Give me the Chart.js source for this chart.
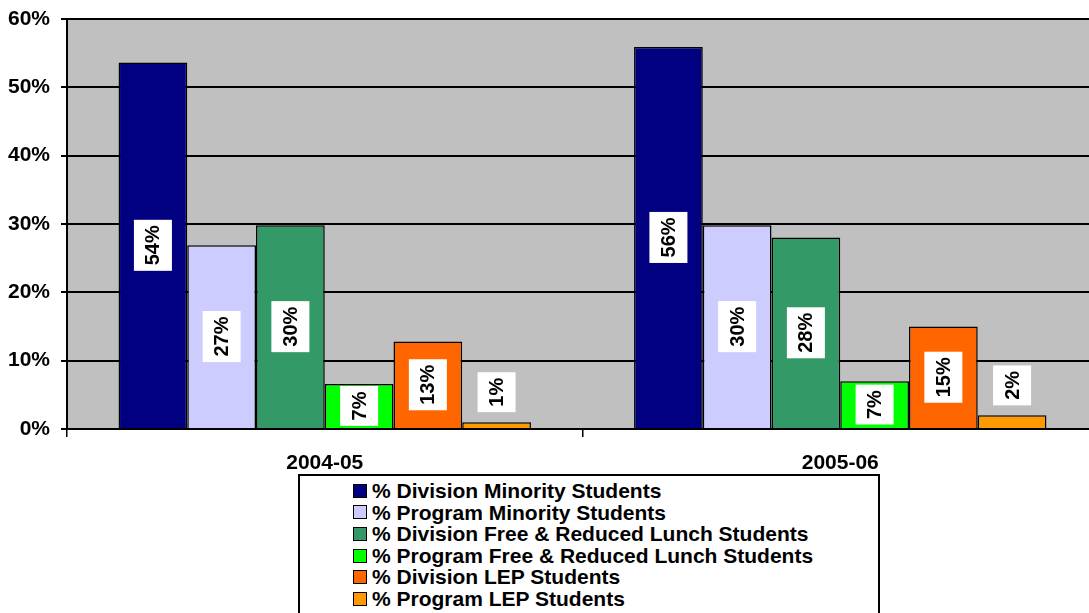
<!DOCTYPE html>
<html>
<head>
<meta charset="utf-8">
<script src="https://cdn.jsdelivr.net/npm/chart.js@4.4.1/dist/chart.umd.min.js"></script>
<style>
    html, body { margin:0; padding:0; background:#fff; overflow:hidden; }
    #wrap { position:relative; width:1089px; height:613px; overflow:hidden; }
    #chart { position:absolute; left:0; top:0; }
    #legend {
        position:absolute; left:298px; top:474px; width:582px; height:160px;
        border:2px solid #000; box-sizing:border-box; background:#fff;
        padding:4px 0 0 53px;
        font:bold 21px 'Liberation Sans', Arial, sans-serif; color:#000;
    }
    .lg-item { display:flex; align-items:center; height:21.6px; line-height:21.6px; white-space:nowrap; }
    .lg-box { width:12px; height:12px; border:1px solid #000; margin-right:5px; flex:none; }
</style>
</head>
<body>
<div id="wrap">
    <canvas id="chart" width="1098" height="613"></canvas>
    <div id="legend"></div>
</div>
<script>
// Dữ liệu biểu đồ
const categories = ['2004-05', '2005-06'];
const seriesLabels = [
    '% Division Minority Students',
    '% Program Minority Students',
    '% Division Free & Reduced Lunch Students',
    '% Program Free & Reduced Lunch Students',
    '% Division LEP Students',
    '% Program LEP Students'
];
const divisionMinority = [53.6, 55.9];
const programMinority = [26.9, 29.8];
const divisionLunch = [29.8, 28.0];
const programLunch = [6.6, 7.0];
const divisionLep = [12.8, 15.0];
const programLep = [1.0, 2.0];
const yTicks = [0, 10, 20, 30, 40, 50, 60];

const seriesValues = [divisionMinority, programMinority, divisionLunch, programLunch, divisionLep, programLep];
const seriesColors = ['#000080', '#CCCCFF', '#339966', '#00FF00', '#FF6600', '#FF9900'];

const FONT = "'Liberation Sans', Arial, sans-serif";

// Nền xám cho vùng vẽ
const plotBackground = {
    id: 'plotBackground',
    beforeDraw(chart) {
        const { ctx, chartArea: a } = chart;
        ctx.save();
        ctx.fillStyle = '#C0C0C0';
        ctx.fillRect(a.left, a.top, a.right - a.left, a.bottom - a.top);
        ctx.restore();
    }
};

// Nhãn giá trị xoay dọc trong hộp trắng
const barLabels = {
    id: 'barLabels',
    afterDatasetsDraw(chart) {
        const ctx = chart.ctx;
        ctx.save();
        ctx.font = 'bold 20px ' + FONT;
        chart.data.datasets.forEach((ds, di) => {
            chart.getDatasetMeta(di).data.forEach((bar, i) => {
                const text = Math.round(ds.data[i]) + '%';
                const tw = ctx.measureText(text).width;
                const boxH = tw + 11, boxW = 38;
                const barH = bar.base - bar.y;
                let cy = (bar.y + bar.base) / 2;
                if (boxH > barH) cy = bar.y - 10 - boxH / 2;
                ctx.fillStyle = '#fff';
                ctx.fillRect(bar.x - boxW / 2, cy - boxH / 2, boxW, boxH);
                ctx.save();
                ctx.translate(bar.x, cy);
                ctx.rotate(-Math.PI / 2);
                ctx.fillStyle = '#000';
                ctx.textAlign = 'center';
                ctx.textBaseline = 'middle';
                ctx.fillText(text, 0, 1);
                ctx.restore();
            });
        });
        ctx.restore();
    }
};

const chart = new Chart(document.getElementById('chart').getContext('2d'), {
    type: 'bar',
    data: {
        labels: categories,
        datasets: seriesLabels.map((label, k) => ({
            label: label,
            data: seriesValues[k],
            backgroundColor: seriesColors[k],
            borderColor: '#000',
            borderWidth: 1.5,
            categoryPercentage: 0.8,
            barPercentage: 1.0
        }))
    },
    options: {
        responsive: false,
        animation: false,
        layout: { padding: { top: 0, left: 0, right: 0, bottom: 0 } },
        plugins: { legend: { display: false }, tooltip: { enabled: false } },
        scales: {
            y: {
                min: 0, max: 60,
                afterBuildTicks: s => { s.ticks = yTicks.map(v => ({ value: v })); },
                afterFit: s => { s.width = 67; },
                grid: { color: '#000', lineWidth: 2, tickLength: 6, tickColor: '#000' },
                border: { color: '#000', width: 2 },
                ticks: {
                    padding: 11,
                    color: '#000',
                    font: { family: FONT, size: 21, weight: 'bold', lineHeight: 0.75 },
                    callback: v => v + '%'
                }
            },
            x: {
                afterFit: s => { s.height = 184; },
                grid: { drawOnChartArea: false, tickLength: 8, color: '#000', lineWidth: 1.5 },
                border: { color: '#000', width: 2 },
                ticks: {
                    padding: 14,
                    color: '#000',
                    font: { family: FONT, size: 21, weight: 'bold' }
                }
            }
        }
    },
    plugins: [plotBackground, barLabels]
});

// Chú thích
const legend = document.getElementById('legend');
seriesLabels.forEach((label, k) => {
    const item = document.createElement('div');
    item.className = 'lg-item';
    item.innerHTML = `<span class="lg-box" style="background:${seriesColors[k]}"></span><span>${label.replace('&', '&amp;')}</span>`;
    legend.appendChild(item);
});
</script>
</body>
</html>
